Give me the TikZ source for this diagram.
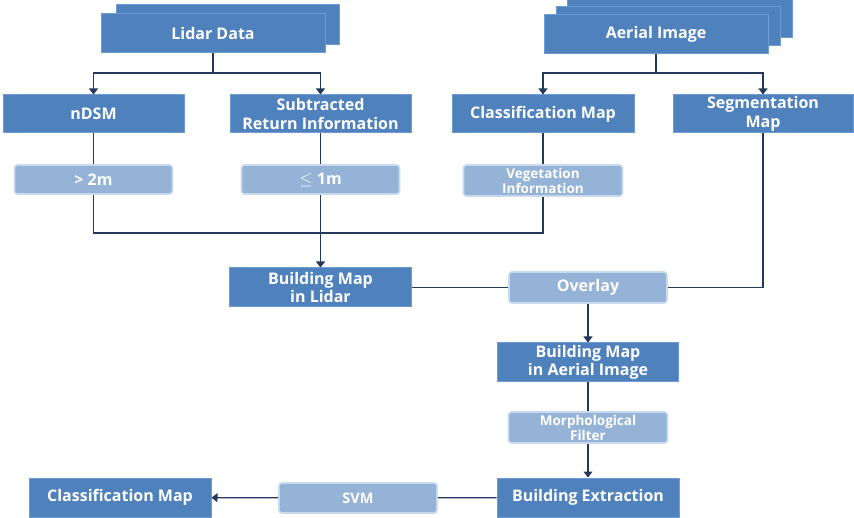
\documentclass[tikz,border=0pt]{standalone}
\usepackage{fontspec}
\setmainfont{Open Sans}
\usetikzlibrary{arrows.meta}
\definecolor{boxblue}{HTML}{4F81BD}
\definecolor{boxedge}{HTML}{6D9BD3}
\definecolor{softblue}{HTML}{95B3D7}
\definecolor{softedge}{HTML}{C9DAEF}
\definecolor{wire}{HTML}{22395C}
\tikzset{
  mainbox/.style={rectangle, fill=boxblue, draw=boxedge, line width=1pt,
    text=white, align=center, inner sep=0pt,
    font=\fontsize{16}{18.5}\selectfont\bfseries},
  softbox/.style={rectangle, rounded corners=3pt, fill=softblue, draw=softedge,
    line width=1.6pt, text=white, align=center, inner sep=0pt,
    font=\fontsize{16}{18.5}\selectfont\bfseries},
  smalltext/.style={font=\fontsize{13.5}{15}\selectfont\bfseries},
  link/.style={draw=wire, line width=1.2pt},
  flow/.style={link, -{Triangle[length=6pt,width=9pt]}},
}
\begin{document}
\begin{tikzpicture}[x=1pt,y=-1pt]
\useasboundingbox (0,0) rectangle (854,518);

% stacked source boxes
\node[mainbox, minimum width=223pt, minimum height=40pt] (lidarback) at (227.5,25) {};
\node[mainbox, minimum width=224pt, minimum height=39pt] (lidar) at (213,33.5) {Lidar Data};

\node[mainbox, minimum width=225pt, minimum height=40pt] (aerialback2) at (679.5,18) {};
\node[mainbox, minimum width=224pt, minimum height=39pt] (aerialback1) at (668,26.5) {};
\node[mainbox, minimum width=224pt, minimum height=39pt] (aerial) at (656,34) {Aerial Image};

% second row
\node[mainbox, minimum width=181pt, minimum height=38pt] (ndsm) at (93.5,114) {nDSM};
\node[mainbox, minimum width=181pt, minimum height=38pt] (sub) at (320.5,114) {Subtracted\\Return Information};
\node[mainbox, minimum width=182pt, minimum height=38pt] (cls) at (543,114) {Classification Map};
\node[mainbox, minimum width=180pt, minimum height=38pt] (seg) at (763,114) {Segmentation\\Map};

% thresholds
\node[softbox, minimum width=158pt, minimum height=29pt] (gt2) at (93.5,179.5) {> 2m};
\node[softbox, minimum width=158pt, minimum height=29pt] (le1) at (320.5,179.5) {$\leq$ 1m};
\node[softbox, smalltext, minimum width=159pt, minimum height=31pt] (veg) at (543,180.5) {Vegetation\\Information};

% merging
\node[mainbox, minimum width=182pt, minimum height=39pt] (bml) at (320.5,287.5) {Building Map\\in Lidar};
\node[softbox, minimum width=158pt, minimum height=31pt] (overlay) at (588,287.5) {Overlay};
\node[mainbox, minimum width=181pt, minimum height=39pt] (bma) at (588,362.5) {Building Map\\in Aerial Image};
\node[softbox, smalltext, minimum width=159pt, minimum height=31pt] (morph) at (588,427.5) {Morphological\\Filter};
\node[mainbox, minimum width=182pt, minimum height=39pt] (bext) at (588,497.5) {Building Extraction};
\node[softbox, font=\fontsize{14.5}{16}\selectfont\bfseries, minimum width=158pt, minimum height=30pt] (svm) at (358,498) {SVM};
\node[mainbox, minimum width=182pt, minimum height=39pt] (cmap) at (120,497.5) {Classification Map};

% branch and junction points
\coordinate (lsplit) at (213,73);
\coordinate (asplit) at (656,73);
\coordinate (jl) at (93.5,233);
\coordinate (jr) at (543,233);

% connectors
\draw[link] (lidar) -- (lsplit);
\draw[flow] (lsplit) -| (ndsm);
\draw[flow] (lsplit) -| (sub);
\draw[link] (aerial) -- (asplit);
\draw[flow] (asplit) -| (cls);
\draw[flow] (asplit) -| (seg);

\draw[link] (ndsm) -- (gt2);
\draw[link] (sub) -- (le1);
\draw[link] (cls) -- (veg);
\draw[link] (gt2) -- (jl) -- (jr) -- (veg);
\draw[flow] (le1) -- (bml);

\draw[link] (bml) -- (overlay);
\draw[link] (seg) |- (overlay);
\draw[flow] (overlay) -- (bma);
\draw[link] (bma) -- (morph);
\draw[flow] (morph) -- (bext);
\draw[link] (bext) -- (svm);
\draw[flow] (svm) -- (cmap);
\end{tikzpicture}
\end{document}
